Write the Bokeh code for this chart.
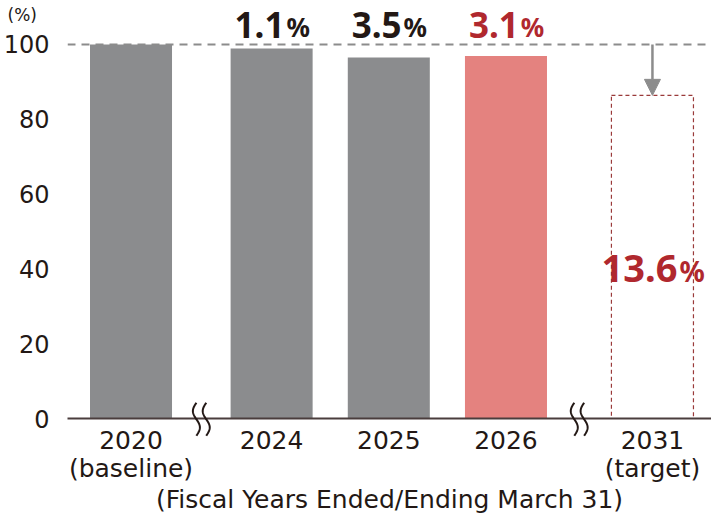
import numpy as np
from bokeh.plotting import figure
from bokeh.models import Range1d, FixedTicker, Span, Arrow, NormalHead, ColumnDataSource
from bokeh.core.properties import value
from bokeh.embed import file_html
from bokeh.resources import INLINE

# ---------------- data ----------------
years = ["2020", "2024", "2025", "2026", "2031"]
notes = ["(baseline)", "", "", "", "(target)"]
values = [100.0, 98.9, 96.5, 96.9, 86.4]          # index, baseline = 100
reductions = [None, 1.1, 3.5, 3.1, 13.6]          # % reduction vs baseline
y_ticks = [0, 20, 40, 60, 80, 100]
x_title = "(Fiscal Years Ended/Ending March 31)"
unit_label = "(%)"

# ---------------- layout ----------------
STEP = 20
GAP = {1: 4, 4: 5}            # extra space before these bars (axis breaks)
pos = []
cur = 0
for i in range(len(years)):
    if i > 0:
        cur += STEP + GAP.get(i, 0)
    pos.append(cur)
BAR_W = 14

GREY = "#8b8c8e"
PINK = "#e4827f"
RED = "#b0282e"
BLACK = "#231815"
AXIS = "#4a3d3d"
DASH_GREY = "#8c8c8c"

X0, X1 = -10.84, 99.08
Y1 = 111.76
p = figure(width=711, height=514, output_backend="svg", toolbar_location=None,
           x_range=Range1d(X0, X1), y_range=Range1d(0, Y1),
           min_border_left=57, min_border_right=0, min_border_top=0, min_border_bottom=96)
p.outline_line_color = None
p.xgrid.visible = False
p.ygrid.visible = False
p.background_fill_color = "white"

# bars
solid_idx = [0, 1, 2, 3]
solid = ColumnDataSource(dict(
    x=[pos[i] for i in solid_idx],
    top=[values[i] for i in solid_idx],
    color=[GREY, GREY, GREY, PINK],
))
p.vbar(x="x", top="top", width=BAR_W, bottom=0, source=solid, fill_color="color", line_color=None)
p.vbar(x=[pos[4]], top=[values[4]], width=BAR_W, bottom=0, fill_color=None,
       line_color="#9a3a3a", line_width=1.2, line_dash="4 3")

# baseline dashed line
p.add_layout(Span(location=values[0], dimension="width", line_color=DASH_GREY,
                  line_width=2, line_dash="8 6", level="overlay"))

# arrow to target
p.add_layout(Arrow(end=NormalHead(size=16, fill_color=DASH_GREY, line_color=DASH_GREY),
                   x_start=pos[4], y_start=values[0], x_end=pos[4], y_end=values[4],
                   line_color=DASH_GREY, line_width=2.5))

# reduction labels (number large, % smaller)
def num_w(s, fs):
    return sum(0.268 * fs if c == "." else 0.572 * fs for c in s)

def add_labels(idx, y, fs, pfs, colors):
    nums = [f"{reductions[i]:.1f}" for i in idx]
    splits = [(num_w(n, fs) - 0.84 * pfs) / 2 for n in nums]
    src = ColumnDataSource(dict(
        x=[pos[i] for i in idx], y=[y] * len(idx), num=nums,
        pct=["%"] * len(idx), c=colors,
        off_n=[s - 1 for s in splits], off_p=[s + 1 for s in splits],
    ))
    p.text(x="x", y="y", text="num", source=src, x_offset="off_n", text_align="right",
           text_baseline="middle", text_font=value("Noto Sans"), text_font_style="bold",
           text_font_size=f"{fs}px", text_color="c", level="overlay")
    p.text(x="x", y="y", text="pct", source=src, x_offset="off_p", y_offset=2,
           text_align="left", text_baseline="middle", text_font=value("Noto Sans"),
           text_font_style="bold", text_font_size=f"{pfs}px", text_color="c", level="overlay")

add_labels([1, 2, 3], 105.3, 35, 26, [BLACK, BLACK, RED])
add_labels([4], 40.1, 38, 28, [RED])

# axis-break squiggles
t = np.linspace(0, 1, 40)
for brk in [(pos[0] + pos[1]) / 2, (pos[3] + pos[4]) / 2]:
    for dx in (-0.84, 0.84):
        xs = brk + dx - 0.6 * np.sin(2 * np.pi * t)
        ys = 4.2 - 8.8 * t
        p.line(xs, ys, line_color="#231815", line_width=2, level="overlay")

# axes
p.xaxis.ticker = FixedTicker(ticks=pos)
p.xaxis.major_label_overrides = {pos[i]: years[i] + ("\n" + notes[i] if notes[i] else "")
                                 for i in range(len(years))}
p.xaxis.axis_line_color = AXIS
p.xaxis.axis_line_width = 2
p.xaxis.major_tick_line_color = None
p.xaxis.minor_tick_line_color = None
p.xaxis.major_label_text_font = "DejaVu Sans"
p.xaxis.major_label_text_font_size = "25px"
p.xaxis.major_label_text_line_height = 0.97
p.xaxis.major_label_text_color = BLACK
p.xaxis.major_label_standoff = 1

p.yaxis.ticker = FixedTicker(ticks=y_ticks)
p.yaxis.axis_line_color = None
p.yaxis.major_tick_line_color = None
p.yaxis.minor_tick_line_color = None
p.yaxis.major_label_text_font = "DejaVu Sans"
p.yaxis.major_label_text_font_size = "24px"
p.yaxis.major_label_text_color = BLACK
p.yaxis.major_label_standoff = 12

# x-axis title and unit label (text glyphs drawn outside the frame)
p.text(x=[(X0 + X1) / 2], y=[0], text=[x_title], y_offset=81, text_align="center",
       text_baseline="middle", text_font=value("DejaVu Sans"), text_font_size="25px",
       text_color=BLACK, level="overlay")
p.text(x=[X0], y=[values[0]], text=[unit_label], x_offset=-60, y_offset=-29, text_align="left",
       text_baseline="middle", text_font=value("DejaVu Sans"), text_font_size="17px",
       text_color=BLACK, level="overlay")

open("out.html", "w").write(file_html(p, INLINE))
